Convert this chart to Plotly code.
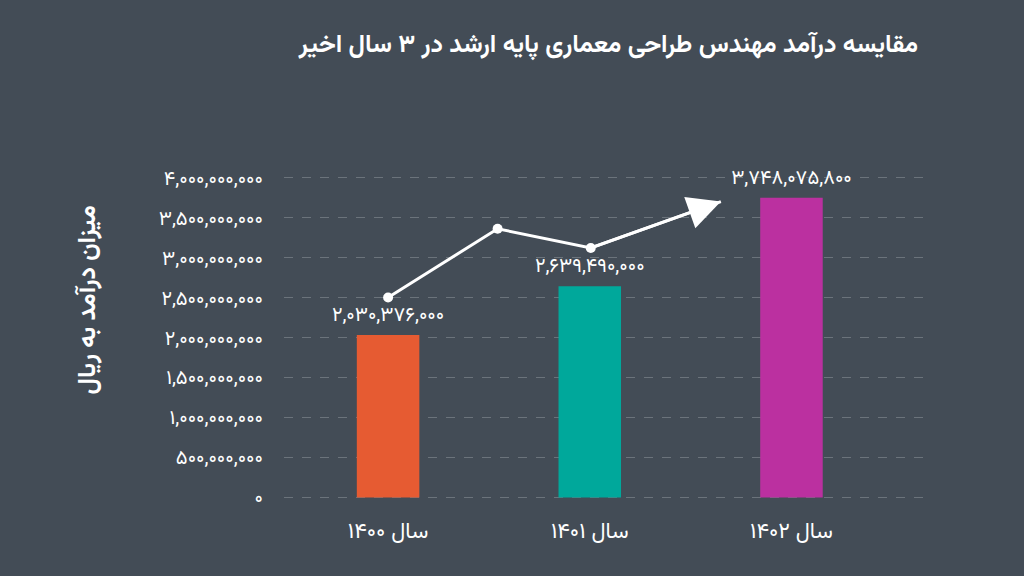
import plotly.graph_objects as go

# ---- data ----
years = ["سال ۱۴۰۰", "سال ۱۴۰۱", "سال ۱۴۰۲"]
incomes = [2030376000, 2639490000, 3748075800]
bar_colors = ["#e65b32", "#00a89b", "#bb30a0"]

# decorative trend line (category position, value)
trend_x = [0, 0.543, 1.005]
trend_y = [2.50e9, 3.36e9, 3.12e9]
arrow_x = 1.65
arrow_y = 3.70e9

y_tickvals = [0, 5e8, 1e9, 1.5e9, 2e9, 2.5e9, 3e9, 3.5e9, 4e9]

title_text = "مقایسه درآمد مهندس طراحی معماری پایه ارشد در ۳ سال اخیر"
y_title = "میزان درآمد به ریال"

FA = str.maketrans("0123456789", "۰۱۲۳۴۵۶۷۸۹")


def to_fa(n):
    return f"{int(n):,}".translate(FA)


bg = "#434c56"
font_family = "Vazirmatn, DejaVu Sans, sans-serif"

fig = go.Figure()
fig.add_trace(go.Bar(
    x=[0, 1, 2], y=incomes, width=0.31,
    marker=dict(color=bar_colors, line=dict(width=0)),
    text=[to_fa(v) for v in incomes], textposition="outside",
    constraintext="none",
    textfont=dict(color="white", size=20, family=font_family),
    cliponaxis=False, hoverinfo="skip",
))
fig.add_trace(go.Scatter(
    x=trend_x + [arrow_x], y=trend_y + [arrow_y], mode="lines",
    line=dict(color="white", width=3), hoverinfo="skip", showlegend=False,
))
fig.add_trace(go.Scatter(
    x=trend_x, y=trend_y, mode="markers",
    marker=dict(color="white", size=10), hoverinfo="skip", showlegend=False,
))
fig.add_annotation(
    x=arrow_x, y=arrow_y, ax=trend_x[-1], ay=trend_y[-1],
    xref="x", yref="y", axref="x", ayref="y",
    text="", showarrow=True, arrowhead=2, arrowsize=2.2, arrowwidth=3,
    arrowcolor="white",
)
fig.add_annotation(
    text=y_title, textangle=-90, xref="paper", yref="paper",
    x=-0.305, y=0.615, xanchor="center", yanchor="middle", showarrow=False,
    font=dict(color="white", size=25, family=font_family, weight="bold"),
)

fig.update_layout(
    width=1024, height=576,
    paper_bgcolor=bg, plot_bgcolor=bg,
    margin=dict(l=284, r=98, t=176, b=77),
    showlegend=False,
    title=dict(text=title_text, xref="container", yref="container",
               x=918 / 1024, y=1 - 43 / 576, xanchor="right", yanchor="middle",
               font=dict(color="white", size=25, family=font_family, weight="bold")),
    font=dict(family=font_family, color="white"),
)
fig.update_xaxes(
    range=[-0.516, 2.667], tickvals=[0, 1, 2], ticktext=years,
    showgrid=False, zeroline=False, showline=False, ticks="",
    tickfont=dict(size=22, color="white", family=font_family),
    ticklabelstandoff=16,
)
fig.update_yaxes(
    range=[-0.02e9, 4.02e9], tickvals=y_tickvals, ticktext=[to_fa(v) for v in y_tickvals],
    showgrid=True, gridcolor="#6b737b", griddash="dash", gridwidth=1,
    zeroline=False, showline=False, ticks="",
    tickfont=dict(size=20, color="white", family=font_family),
    ticklabelstandoff=20,
)

fig.write_html("out.html")
